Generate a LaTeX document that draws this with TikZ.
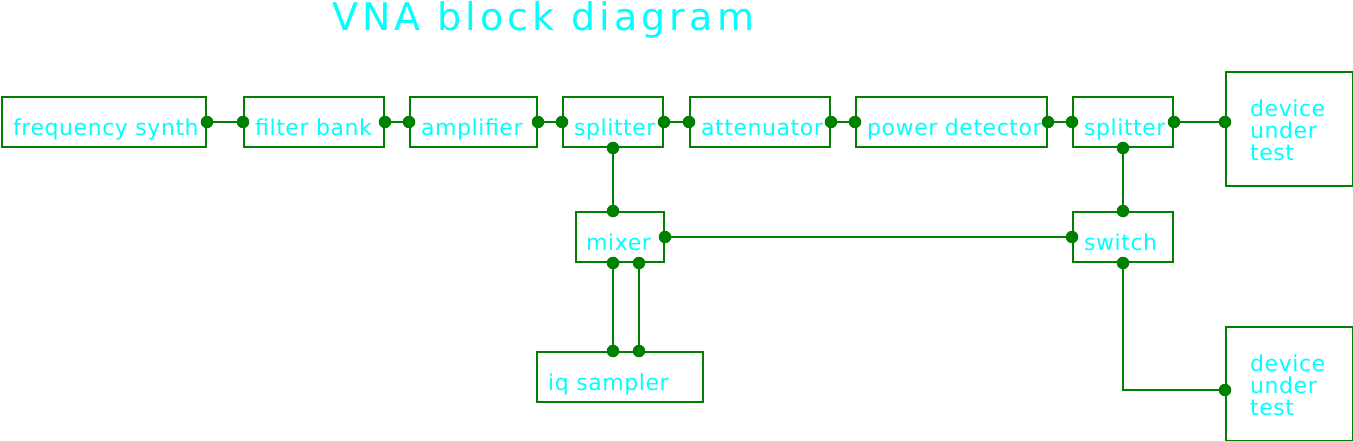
\documentclass[tikz,border=0pt]{standalone}
\usepackage{fontspec}
\newfontfamily\nodefont[LetterSpace=2.5]{DejaVu Sans}
\newfontfamily\titlefont[LetterSpace=11]{DejaVu Sans}
\definecolor{wire}{RGB}{0,128,0}
\definecolor{txt}{RGB}{0,255,255}
\begin{document}
\begin{tikzpicture}[x=1pt,y=-1pt,
  blk/.style={draw=wire,line width=2pt,inner sep=0pt,anchor=north west},
  lbl/.style={text=txt,font=\nodefont\fontsize{22}{21.7}\selectfont,inner sep=0pt,anchor=base west},
  wirel/.style={draw=wire,line width=2pt},
  port/.style={fill=wire,draw=none,circle,minimum size=12.5pt,inner sep=0pt}]
\useasboundingbox (0,0) rectangle (1353,441);
\node[text=txt,font=\titlefont\fontsize{38}{38}\selectfont,inner sep=0pt,anchor=base west] (title) at (332,31) {VNA block diagram};
% boxes
\node[blk,minimum width=204pt,minimum height=50pt] (fs) at (1,96) {};
\node[blk,minimum width=140pt,minimum height=50pt] (fb) at (243,96) {};
\node[blk,minimum width=127pt,minimum height=50pt] (amp) at (409,96) {};
\node[blk,minimum width=100pt,minimum height=50pt] (s1) at (562,96) {};
\node[blk,minimum width=140pt,minimum height=50pt] (att) at (689,96) {};
\node[blk,minimum width=191pt,minimum height=50pt] (pd) at (855,96) {};
\node[blk,minimum width=100pt,minimum height=50pt] (s2) at (1072,96) {};
\node[blk,minimum width=127pt,minimum height=114pt] (dut1) at (1225,71) {};
\node[blk,minimum width=88pt,minimum height=50pt] (mx) at (575,211) {};
\node[blk,minimum width=100pt,minimum height=50pt] (sw) at (1072,211) {};
\node[blk,minimum width=166pt,minimum height=50pt] (iq) at (536,351) {};
\node[blk,minimum width=127pt,minimum height=114pt] (dut2) at (1225,326) {};
% labels
\node[lbl] (tfs) at ([shift={(12,-12.5)}]fs.south west) {frequency synth};
\node[lbl] (tfb) at ([shift={(12,-12.5)}]fb.south west) {filter bank};
\node[lbl] (tamp) at ([shift={(12,-12.5)}]amp.south west) {amplifier};
\node[lbl] (ts1) at ([shift={(12,-12.5)}]s1.south west) {splitter};
\node[lbl] (tatt) at ([shift={(12,-12.5)}]att.south west) {attenuator};
\node[lbl] (tpd) at ([shift={(12,-12.5)}]pd.south west) {power detector};
\node[lbl] (ts2) at ([shift={(12,-12.5)}]s2.south west) {splitter};
\node[lbl] (tmx) at ([shift={(11,-12.5)}]mx.south west) {mixer};
\node[lbl] (tsw) at ([shift={(12,-12.5)}]sw.south west) {switch};
\node[lbl] (tiq) at ([shift={(12,-12.5)}]iq.south west) {iq sampler};
\node[lbl,anchor=north west,align=left] (tdut1) at (1250,100) {device\\under\\test};
\node[lbl,anchor=north west,align=left] (tdut2) at (1250,355) {device\\under\\test};
% port coordinates
\coordinate (mxin) at (s1.south |- mx.north);
\coordinate (mxi) at (s1.south |- mx.south);
\coordinate (mxq) at ([xshift=26pt]mxi);
\coordinate (iqi) at (s1.south |- iq.north);
\coordinate (iqq) at ([xshift=26pt]iqi);
\coordinate (dut1in) at (dut1.west |- s2.east);
\coordinate (dut2in) at ([yshift=-6pt]dut2.west);
% connectors
\draw[wirel] (fs.east) -- (fb.west);
\draw[wirel] (fb.east) -- (amp.west);
\draw[wirel] (amp.east) -- (s1.west);
\draw[wirel] (s1.east) -- (att.west);
\draw[wirel] (att.east) -- (pd.west);
\draw[wirel] (pd.east) -- (s2.west);
\draw[wirel] (s2.east) -- (dut1in);
\draw[wirel] (s1.south) -- (mxin);
\draw[wirel] (mxi) -- (iqi);
\draw[wirel] (mxq) -- (iqq);
\draw[wirel] (mx.east) -- (sw.west);
\draw[wirel] (s2.south) -- (sw.north);
\draw[wirel] (sw.south) |- (dut2in);
% port dots
\foreach \p in {fs.east,fb.west,fb.east,amp.west,amp.east,s1.west,s1.east,s1.south,
  att.west,att.east,pd.west,pd.east,s2.west,s2.east,s2.south,dut1in,
  mxin,mxi,mxq,mx.east,iqi,iqq,sw.north,sw.west,sw.south,dut2in}
  \node[port] at (\p) {};
\end{tikzpicture}
\end{document}
